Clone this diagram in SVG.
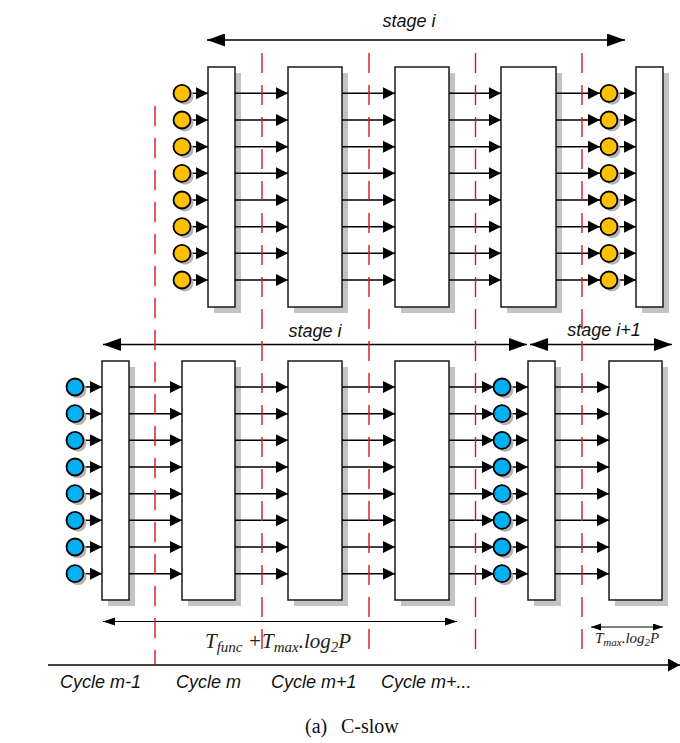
<svg xmlns="http://www.w3.org/2000/svg" width="680" height="743" viewBox="0 0 680 743">
<defs>
<marker id="ah" markerUnits="userSpaceOnUse" markerWidth="14" markerHeight="14" refX="12" refY="6.5" orient="auto"><path d="M0,0.5 L12,6.5 L0,12.5 z" fill="#000"/></marker>
<marker id="big" markerUnits="userSpaceOnUse" markerWidth="19" markerHeight="13" refX="18" refY="6.5" orient="auto-start-reverse"><path d="M0,0 L18,6.5 L0,13 z" fill="#000"/></marker>
<marker id="sm" markerUnits="userSpaceOnUse" markerWidth="13" markerHeight="9" refX="12" refY="4" orient="auto-start-reverse"><path d="M0,0 L12,4 L0,8 z" fill="#000"/></marker>
<marker id="xs" markerUnits="userSpaceOnUse" markerWidth="11" markerHeight="8" refX="10" refY="3.5" orient="auto-start-reverse"><path d="M0,0 L10,3.5 L0,7 z" fill="#000"/></marker>
<marker id="ax" markerUnits="userSpaceOnUse" markerWidth="13" markerHeight="14" refX="12" refY="6.5" orient="auto"><path d="M0,0 L12,6.5 L0,13 z" fill="#000"/></marker>
<g id="toprow" stroke="#000" stroke-width="1.5">
<line x1="190" y1="0" x2="208" y2="0" marker-end="url(#ah)"/>
<line x1="235" y1="0" x2="288" y2="0" marker-end="url(#ah)"/>
<line x1="342" y1="0" x2="395" y2="0" marker-end="url(#ah)"/>
<line x1="449" y1="0" x2="501" y2="0" marker-end="url(#ah)"/>
<line x1="556" y1="0" x2="600" y2="0" marker-end="url(#ah)"/>
<line x1="617" y1="0" x2="636" y2="0" marker-end="url(#ah)"/>
</g>
<g id="botrow" stroke="#000" stroke-width="1.5">
<line x1="83" y1="0" x2="102" y2="0" marker-end="url(#ah)"/>
<line x1="129" y1="0" x2="182" y2="0" marker-end="url(#ah)"/>
<line x1="235" y1="0" x2="288" y2="0" marker-end="url(#ah)"/>
<line x1="342" y1="0" x2="395" y2="0" marker-end="url(#ah)"/>
<line x1="449" y1="0" x2="494" y2="0" marker-end="url(#ah)"/>
<line x1="510" y1="0" x2="528" y2="0" marker-end="url(#ah)"/>
<line x1="555" y1="0" x2="609" y2="0" marker-end="url(#ah)"/>
</g>
</defs>
<style>
.blk{fill:#fff;stroke:#1a1a1a;stroke-width:1.5}
.sh{fill:#c3c3c3}
.csh{fill:#b5b5b5}
.y{fill:#ffc000;stroke:#000;stroke-width:1.8}
.b{fill:#00b0f0;stroke:#000;stroke-width:1.8}
.red{stroke:#d01818;stroke-width:1.4;stroke-dasharray:20 12;fill:none}
.lbl{font-family:"Liberation Sans",Arial,sans-serif;font-style:italic;font-size:18px;fill:#111}
.math{font-family:"Liberation Serif","Times New Roman",serif;font-style:italic;fill:#222}
</style>

<g id="shadows">
<rect class="sh" x="214" y="73" width="27" height="240"/>
<rect class="sh" x="294" y="73" width="54" height="240"/>
<rect class="sh" x="401" y="73" width="54" height="240"/>
<rect class="sh" x="507" y="73" width="55" height="240"/>
<rect class="sh" x="642" y="73" width="27" height="240"/>
<rect class="sh" x="108" y="367" width="27" height="239"/>
<rect class="sh" x="188" y="367" width="53" height="239"/>
<rect class="sh" x="294" y="367" width="54" height="239"/>
<rect class="sh" x="401" y="367" width="54" height="239"/>
<rect class="sh" x="534" y="367" width="27" height="239"/>
<rect class="sh" x="615" y="367" width="53" height="239"/>
</g>

<g id="top-block-1"><rect class="blk" x="208" y="67" width="27" height="240"/></g>
<g id="top-block-2"><rect class="blk" x="288" y="67" width="54" height="240"/></g>
<g id="top-block-3"><rect class="blk" x="395" y="67" width="54" height="240"/></g>
<g id="top-block-4"><rect class="blk" x="501" y="67" width="55" height="240"/></g>
<g id="top-block-5"><rect class="blk" x="636" y="67" width="27" height="240"/></g>
<g id="bot-block-1"><rect class="blk" x="102" y="361" width="27" height="239"/></g>
<g id="bot-block-2"><rect class="blk" x="182" y="361" width="53" height="239"/></g>
<g id="bot-block-3"><rect class="blk" x="288" y="361" width="54" height="239"/></g>
<g id="bot-block-4"><rect class="blk" x="395" y="361" width="54" height="239"/></g>
<g id="bot-block-5"><rect class="blk" x="528" y="361" width="27" height="239"/></g>
<g id="bot-block-6"><rect class="blk" x="609" y="361" width="53" height="239"/></g>

<g id="connectors">
<use href="#toprow" y="93.3"/>
<use href="#toprow" y="120"/>
<use href="#toprow" y="146.7"/>
<use href="#toprow" y="173.3"/>
<use href="#toprow" y="200"/>
<use href="#toprow" y="226.7"/>
<use href="#toprow" y="253.3"/>
<use href="#toprow" y="280"/>
<use href="#botrow" y="387"/>
<use href="#botrow" y="413.7"/>
<use href="#botrow" y="440.3"/>
<use href="#botrow" y="467"/>
<use href="#botrow" y="493.7"/>
<use href="#botrow" y="520.3"/>
<use href="#botrow" y="547"/>
<use href="#botrow" y="573.7"/>
<line x1="207" y1="40" x2="625" y2="40" stroke="#000" stroke-width="1.5" marker-start="url(#big)" marker-end="url(#big)"/>
<line x1="103" y1="344.5" x2="527" y2="344.5" stroke="#000" stroke-width="1.5" marker-start="url(#big)" marker-end="url(#big)"/>
<line x1="530" y1="344.5" x2="672" y2="344.5" stroke="#000" stroke-width="1.5" marker-start="url(#big)" marker-end="url(#big)"/>
<line x1="103" y1="621.5" x2="457" y2="621.5" stroke="#000" stroke-width="1.2" marker-start="url(#sm)" marker-end="url(#sm)"/>
<line x1="591" y1="627" x2="663" y2="627" stroke="#000" stroke-width="1.2" marker-start="url(#xs)" marker-end="url(#xs)"/>
<line x1="48" y1="665" x2="680" y2="665" stroke="#000" stroke-width="1.5" marker-end="url(#ax)"/>
</g>

<g id="top-inputs">
<g class="csh"><circle cx="185" cy="96.3" r="8.5"/><circle cx="185" cy="123" r="8.5"/><circle cx="185" cy="149.7" r="8.5"/><circle cx="185" cy="176.3" r="8.5"/><circle cx="185" cy="203" r="8.5"/><circle cx="185" cy="229.7" r="8.5"/><circle cx="185" cy="256.3" r="8.5"/><circle cx="185" cy="283" r="8.5"/></g>
<g class="y"><circle cx="182" cy="93.3" r="8.5"/><circle cx="182" cy="120" r="8.5"/><circle cx="182" cy="146.7" r="8.5"/><circle cx="182" cy="173.3" r="8.5"/><circle cx="182" cy="200" r="8.5"/><circle cx="182" cy="226.7" r="8.5"/><circle cx="182" cy="253.3" r="8.5"/><circle cx="182" cy="280" r="8.5"/></g>
</g>
<g id="top-outputs">
<g class="csh"><circle cx="612" cy="96.3" r="8.5"/><circle cx="612" cy="123" r="8.5"/><circle cx="612" cy="149.7" r="8.5"/><circle cx="612" cy="176.3" r="8.5"/><circle cx="612" cy="203" r="8.5"/><circle cx="612" cy="229.7" r="8.5"/><circle cx="612" cy="256.3" r="8.5"/><circle cx="612" cy="283" r="8.5"/></g>
<g class="y"><circle cx="609" cy="93.3" r="8.5"/><circle cx="609" cy="120" r="8.5"/><circle cx="609" cy="146.7" r="8.5"/><circle cx="609" cy="173.3" r="8.5"/><circle cx="609" cy="200" r="8.5"/><circle cx="609" cy="226.7" r="8.5"/><circle cx="609" cy="253.3" r="8.5"/><circle cx="609" cy="280" r="8.5"/></g>
</g>
<g id="bot-inputs">
<g class="csh"><circle cx="78" cy="390" r="8.5"/><circle cx="78" cy="416.7" r="8.5"/><circle cx="78" cy="443.3" r="8.5"/><circle cx="78" cy="470" r="8.5"/><circle cx="78" cy="496.7" r="8.5"/><circle cx="78" cy="523.3" r="8.5"/><circle cx="78" cy="550" r="8.5"/><circle cx="78" cy="576.7" r="8.5"/></g>
<g class="b"><circle cx="75" cy="387" r="8.5"/><circle cx="75" cy="413.7" r="8.5"/><circle cx="75" cy="440.3" r="8.5"/><circle cx="75" cy="467" r="8.5"/><circle cx="75" cy="493.7" r="8.5"/><circle cx="75" cy="520.3" r="8.5"/><circle cx="75" cy="547" r="8.5"/><circle cx="75" cy="573.7" r="8.5"/></g>
</g>
<g id="bot-outputs">
<g class="csh"><circle cx="505" cy="390" r="8.5"/><circle cx="505" cy="416.7" r="8.5"/><circle cx="505" cy="443.3" r="8.5"/><circle cx="505" cy="470" r="8.5"/><circle cx="505" cy="496.7" r="8.5"/><circle cx="505" cy="523.3" r="8.5"/><circle cx="505" cy="550" r="8.5"/><circle cx="505" cy="576.7" r="8.5"/></g>
<g class="b"><circle cx="502" cy="387" r="8.5"/><circle cx="502" cy="413.7" r="8.5"/><circle cx="502" cy="440.3" r="8.5"/><circle cx="502" cy="467" r="8.5"/><circle cx="502" cy="493.7" r="8.5"/><circle cx="502" cy="520.3" r="8.5"/><circle cx="502" cy="547" r="8.5"/><circle cx="502" cy="573.7" r="8.5"/></g>
</g>

<g id="cycle-boundaries">
<line class="red" x1="155" y1="106" x2="155" y2="665"/>
<line class="red" x1="262" y1="53" x2="262" y2="660"/>
<line class="red" x1="369" y1="53" x2="369" y2="660"/>
<line class="red" x1="475.5" y1="53" x2="475.5" y2="660"/>
<line class="red" x1="582" y1="53" x2="582" y2="660"/>
</g>

<g id="labels">
<text class="lbl" x="409" y="26.5" text-anchor="middle">stage i</text>
<text class="lbl" x="315" y="337" text-anchor="middle">stage i</text>
<text class="lbl" x="604" y="336" text-anchor="middle">stage i+1</text>
<text class="lbl" x="60" y="688">Cycle m-1</text>
<text class="lbl" x="176" y="688">Cycle m</text>
<text class="lbl" x="271" y="688">Cycle m+1</text>
<text class="lbl" x="381" y="688">Cycle m+...</text>
<text class="math" x="205" y="648" font-size="21">T<tspan font-size="15" dy="4">func</tspan><tspan dy="-4"> +T</tspan><tspan font-size="15" dy="4">max</tspan><tspan dy="-4">.log</tspan><tspan font-size="15" dy="4">2</tspan><tspan dy="-4">P</tspan></text>
<text class="math" x="595" y="643" font-size="15">T<tspan font-size="11" dy="3">max</tspan><tspan dy="-3">.log</tspan><tspan font-size="11" dy="3">2</tspan><tspan dy="-3">P</tspan></text>
<text x="305" y="733" font-family="'Liberation Serif','Times New Roman',serif" font-size="20" fill="#111">(a)<tspan x="341">C-slow</tspan></text>
</g>
</svg>
